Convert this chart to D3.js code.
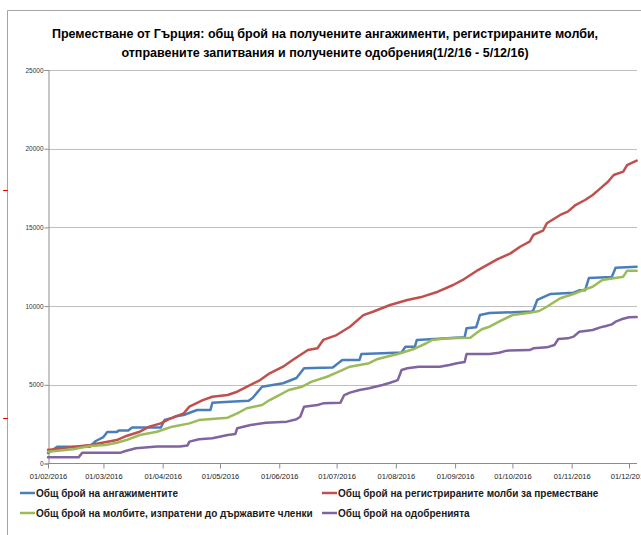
<!DOCTYPE html>
<html>
<head>
<meta charset="utf-8">
<script src="https://cdn.jsdelivr.net/npm/d3@7"></script>
<style>
body { margin: 0; background: #fff; }
svg { display: block; font-family: "Liberation Sans", Arial, sans-serif; }
</style>
</head>
<body>
<div id="chart"></div>
<script>
var titleLines = [
	"Преместване от Гърция:  общ брой на получените ангажименти, регистрираните молби,",
	"отправените запитвания и получените одобрения(1/2/16 - 5/12/16)"
];
var seriesNames = [
	"Общ брой на ангажиментите",
	"Общ брой на регистрираните молби за преместване",
	"Общ брой на молбите, изпратени до държавите членки",
	"Общ брой на одобренията"
];
var seriesColors = ["#4a7ebb", "#c0504d", "#9bbb59", "#8064a2"];
var yTicks = [0, 5000, 10000, 15000, 20000, 25000];

var engagements = [
	["2016-02-01", 670], ["2016-02-06", 1070], ["2016-02-23", 1070], ["2016-02-26", 1430],
	["2016-03-01", 1680], ["2016-03-03", 2000], ["2016-03-08", 2000], ["2016-03-09", 2100],
	["2016-03-14", 2100], ["2016-03-16", 2280], ["2016-03-31", 2280], ["2016-04-02", 2760],
	["2016-04-06", 2900], ["2016-04-08", 3000], ["2016-04-12", 3080], ["2016-04-19", 3400],
	["2016-04-26", 3400], ["2016-04-27", 3860], ["2016-05-06", 3930], ["2016-05-16", 3980],
	["2016-05-18", 4160], ["2016-05-23", 4880], ["2016-06-03", 5100], ["2016-06-10", 5430],
	["2016-06-14", 6050], ["2016-06-29", 6100], ["2016-07-04", 6580], ["2016-07-13", 6580],
	["2016-07-14", 6960], ["2016-07-25", 7000], ["2016-08-04", 7050], ["2016-08-06", 7420],
	["2016-08-11", 7420], ["2016-08-12", 7850], ["2016-09-06", 8020], ["2016-09-07", 8600],
	["2016-09-12", 8650], ["2016-09-14", 9430], ["2016-09-19", 9560], ["2016-10-11", 9650],
	["2016-10-12", 9750], ["2016-10-14", 10390], ["2016-10-21", 10770], ["2016-11-02", 10850],
	["2016-11-05", 11000], ["2016-11-08", 11000], ["2016-11-10", 11780], ["2016-11-22", 11850],
	["2016-11-24", 12440], ["2016-12-05", 12500]
];
var registered = [
	["2016-02-01", 870], ["2016-02-02", 880], ["2016-02-23", 1175], ["2016-02-28", 1280],
	["2016-03-08", 1490], ["2016-03-13", 1750], ["2016-03-20", 2020], ["2016-03-25", 2340],
	["2016-03-31", 2550], ["2016-04-04", 2800], ["2016-04-12", 3190], ["2016-04-15", 3610],
	["2016-04-22", 4030], ["2016-04-27", 4240], ["2016-05-05", 4350], ["2016-05-10", 4560],
	["2016-05-17", 4990], ["2016-05-22", 5300], ["2016-05-27", 5730], ["2016-06-03", 6150],
	["2016-06-08", 6575], ["2016-06-16", 7210], ["2016-06-21", 7320], ["2016-06-24", 7850],
	["2016-07-01", 8160], ["2016-07-08", 8690], ["2016-07-15", 9430], ["2016-07-20", 9640],
	["2016-07-29", 10070], ["2016-08-07", 10390], ["2016-08-15", 10600], ["2016-08-23", 10915],
	["2016-08-31", 11340], ["2016-09-05", 11660], ["2016-09-13", 12290], ["2016-09-23", 12970],
	["2016-09-30", 13350], ["2016-10-05", 13770], ["2016-10-10", 14090], ["2016-10-12", 14520],
	["2016-10-17", 14790], ["2016-10-19", 15260], ["2016-10-26", 15790], ["2016-10-30", 16000],
	["2016-11-03", 16420], ["2016-11-08", 16740], ["2016-11-12", 17060], ["2016-11-16", 17480],
	["2016-11-20", 17900], ["2016-11-23", 18330], ["2016-11-28", 18540], ["2016-11-30", 18960],
	["2016-12-05", 19240]
];
var sentToStates = [
	["2016-02-01", 750], ["2016-02-14", 900], ["2016-02-23", 1110], ["2016-03-02", 1175],
	["2016-03-08", 1320], ["2016-03-13", 1490], ["2016-03-20", 1810], ["2016-03-29", 2020],
	["2016-04-06", 2340], ["2016-04-15", 2550], ["2016-04-20", 2760], ["2016-05-05", 2910],
	["2016-05-10", 3190], ["2016-05-15", 3510], ["2016-05-23", 3720], ["2016-05-27", 4030],
	["2016-06-01", 4350], ["2016-06-06", 4670], ["2016-06-13", 4880], ["2016-06-18", 5200],
	["2016-06-26", 5510], ["2016-07-01", 5770], ["2016-07-08", 6150], ["2016-07-18", 6370],
	["2016-07-22", 6620], ["2016-08-02", 6960], ["2016-08-10", 7255], ["2016-08-17", 7640],
	["2016-08-20", 7850], ["2016-08-28", 7950], ["2016-09-09", 7990], ["2016-09-12", 8270],
	["2016-09-15", 8530], ["2016-09-19", 8690], ["2016-09-24", 9010], ["2016-10-01", 9430],
	["2016-10-10", 9580], ["2016-10-15", 9690], ["2016-10-19", 9960], ["2016-10-26", 10500],
	["2016-11-02", 10770], ["2016-11-07", 11020], ["2016-11-12", 11230], ["2016-11-17", 11660],
	["2016-11-28", 11870], ["2016-11-30", 12250], ["2016-12-05", 12250]
];
var approvals = [
	["2016-02-01", 390], ["2016-02-17", 390], ["2016-02-19", 690], ["2016-03-10", 690],
	["2016-03-13", 810], ["2016-03-18", 970], ["2016-03-29", 1080], ["2016-04-10", 1080],
	["2016-04-14", 1150], ["2016-04-15", 1390], ["2016-04-20", 1540], ["2016-04-27", 1600],
	["2016-05-05", 1810], ["2016-05-09", 1875], ["2016-05-10", 2240], ["2016-05-17", 2450],
	["2016-05-25", 2590], ["2016-06-05", 2660], ["2016-06-10", 2810], ["2016-06-12", 2970],
	["2016-06-14", 3610], ["2016-06-21", 3720], ["2016-06-24", 3820], ["2016-07-03", 3860],
	["2016-07-05", 4350], ["2016-07-08", 4500], ["2016-07-13", 4670], ["2016-07-18", 4780],
	["2016-07-25", 4990], ["2016-07-29", 5130], ["2016-08-02", 5300], ["2016-08-04", 5940],
	["2016-08-07", 6050], ["2016-08-13", 6150], ["2016-08-24", 6150], ["2016-08-29", 6260],
	["2016-09-02", 6370], ["2016-09-06", 6450], ["2016-09-07", 6960], ["2016-09-19", 6960],
	["2016-09-24", 7040], ["2016-09-28", 7170], ["2016-10-10", 7210], ["2016-10-12", 7320],
	["2016-10-19", 7380], ["2016-10-23", 7530], ["2016-10-25", 7910], ["2016-10-30", 7950],
	["2016-11-02", 8060], ["2016-11-05", 8370], ["2016-11-12", 8480], ["2016-11-16", 8650],
	["2016-11-19", 8740], ["2016-11-22", 8840], ["2016-11-24", 9010], ["2016-11-27", 9160],
	["2016-12-01", 9290], ["2016-12-05", 9300]
];

var allSeries = [engagements, registered, sentToStates, approvals];
var parseDate = d3.utcParse("%Y-%m-%d");

var svg = d3.select("#chart").append("svg")
	.attr("width", 641)
	.attr("height", 535);

// chart frame (left and top edges only, rest is cut off)
svg.append("path")
	.attr("d", "M7.5,535V10.5H641")
	.attr("fill", "none")
	.attr("stroke", "#a6a6a6")
	.attr("stroke-width", 1);

svg.selectAll("line.redmark")
	.data([190, 418])
	.enter()
	.append("line")
	.attr("class", "redmark")
	.attr("x1", 3).attr("x2", 8)
	.attr("y1", function (d) { return d + 0.5; })
	.attr("y2", function (d) { return d + 0.5; })
	.attr("stroke", "#ff0000")
	.attr("stroke-width", 1);

svg.selectAll("text.title")
	.data(titleLines)
	.enter()
	.append("text")
	.attr("class", "title")
	.attr("x", 325)
	.attr("y", function (d, i) { return 38 + i * 19; })
	.attr("text-anchor", "middle")
	.attr("font-size", "12.5px")
	.attr("font-weight", "bold")
	.attr("fill", "#000")
	.text(function (d) { return d; });

var xscale = d3.scaleUtc()
	.domain([parseDate("2016-02-01"), parseDate("2016-12-01")])
	.range([48, 629]);

var yscale = d3.scaleLinear()
	.domain([0, 25000])
	.range([463.5, 70]);

svg.append("g")
	.selectAll("line")
	.data(yTicks.slice(1))
	.enter()
	.append("line")
	.attr("x1", 48)
	.attr("x2", 637)
	.attr("y1", function (d) { return Math.round(yscale(d)) + 0.5; })
	.attr("y2", function (d) { return Math.round(yscale(d)) + 0.5; })
	.attr("stroke", "#bfbfbf")
	.attr("stroke-width", 1.2);

var yAxis = svg.append("g")
	.attr("transform", "translate(48.5,0)")
	.call(d3.axisLeft(yscale).tickValues(yTicks).tickSize(4).tickPadding(1).tickFormat(d3.format("d")));
yAxis.select(".domain").attr("stroke", "#8c8c8c");
yAxis.selectAll(".tick line").attr("stroke", "#8c8c8c");
yAxis.selectAll("text")
	.attr("font-size", "6.5px")
	.attr("font-family", "Liberation Sans, Arial, sans-serif")
	.attr("fill", "#333");

var xAxis = svg.append("g")
	.attr("transform", "translate(0,463.5)")
	.call(d3.axisBottom(xscale)
		.ticks(d3.utcMonth.every(1))
		.tickSize(5)
		.tickPadding(5)
		.tickFormat(d3.utcFormat("%d/%m/%Y")));
xAxis.select(".domain")
	.attr("d", "M48,0H637")
	.attr("stroke", "#8c8c8c");
xAxis.selectAll(".tick line").attr("stroke", "#8c8c8c");
xAxis.selectAll("text")
	.attr("font-size", "7.5px")
	.attr("font-family", "Liberation Sans, Arial, sans-serif")
	.attr("fill", "#222");

var line = d3.line()
	.x(function (d) { return xscale(parseDate(d[0])); })
	.y(function (d) { return yscale(d[1]); });

svg.append("g")
	.selectAll("path")
	.data(allSeries)
	.enter()
	.append("path")
	.attr("d", function (d) { return line(d); })
	.attr("fill", "none")
	.attr("stroke", function (d, i) { return seriesColors[i]; })
	.attr("stroke-width", 2.5)
	.attr("stroke-linejoin", "round")
	.attr("stroke-linecap", "round");

var legend = svg.append("g")
	.selectAll("g")
	.data(seriesNames)
	.enter()
	.append("g")
	.attr("transform", function (d, i) {
		return "translate(" + (i % 2 === 0 ? 20 : 322) + "," + (493 + Math.floor(i / 2) * 20) + ")";
	});

legend.append("line")
	.attr("x1", 0).attr("x2", 15)
	.attr("y1", 0).attr("y2", 0)
	.attr("stroke", function (d, i) { return seriesColors[i]; })
	.attr("stroke-width", 2.5);

legend.append("text")
	.attr("x", 16)
	.attr("y", 3.5)
	.attr("font-size", "10px")
	.attr("font-weight", "bold")
	.attr("fill", "#1a1a1a")
	.text(function (d) { return d; });
</script>
</body>
</html>
